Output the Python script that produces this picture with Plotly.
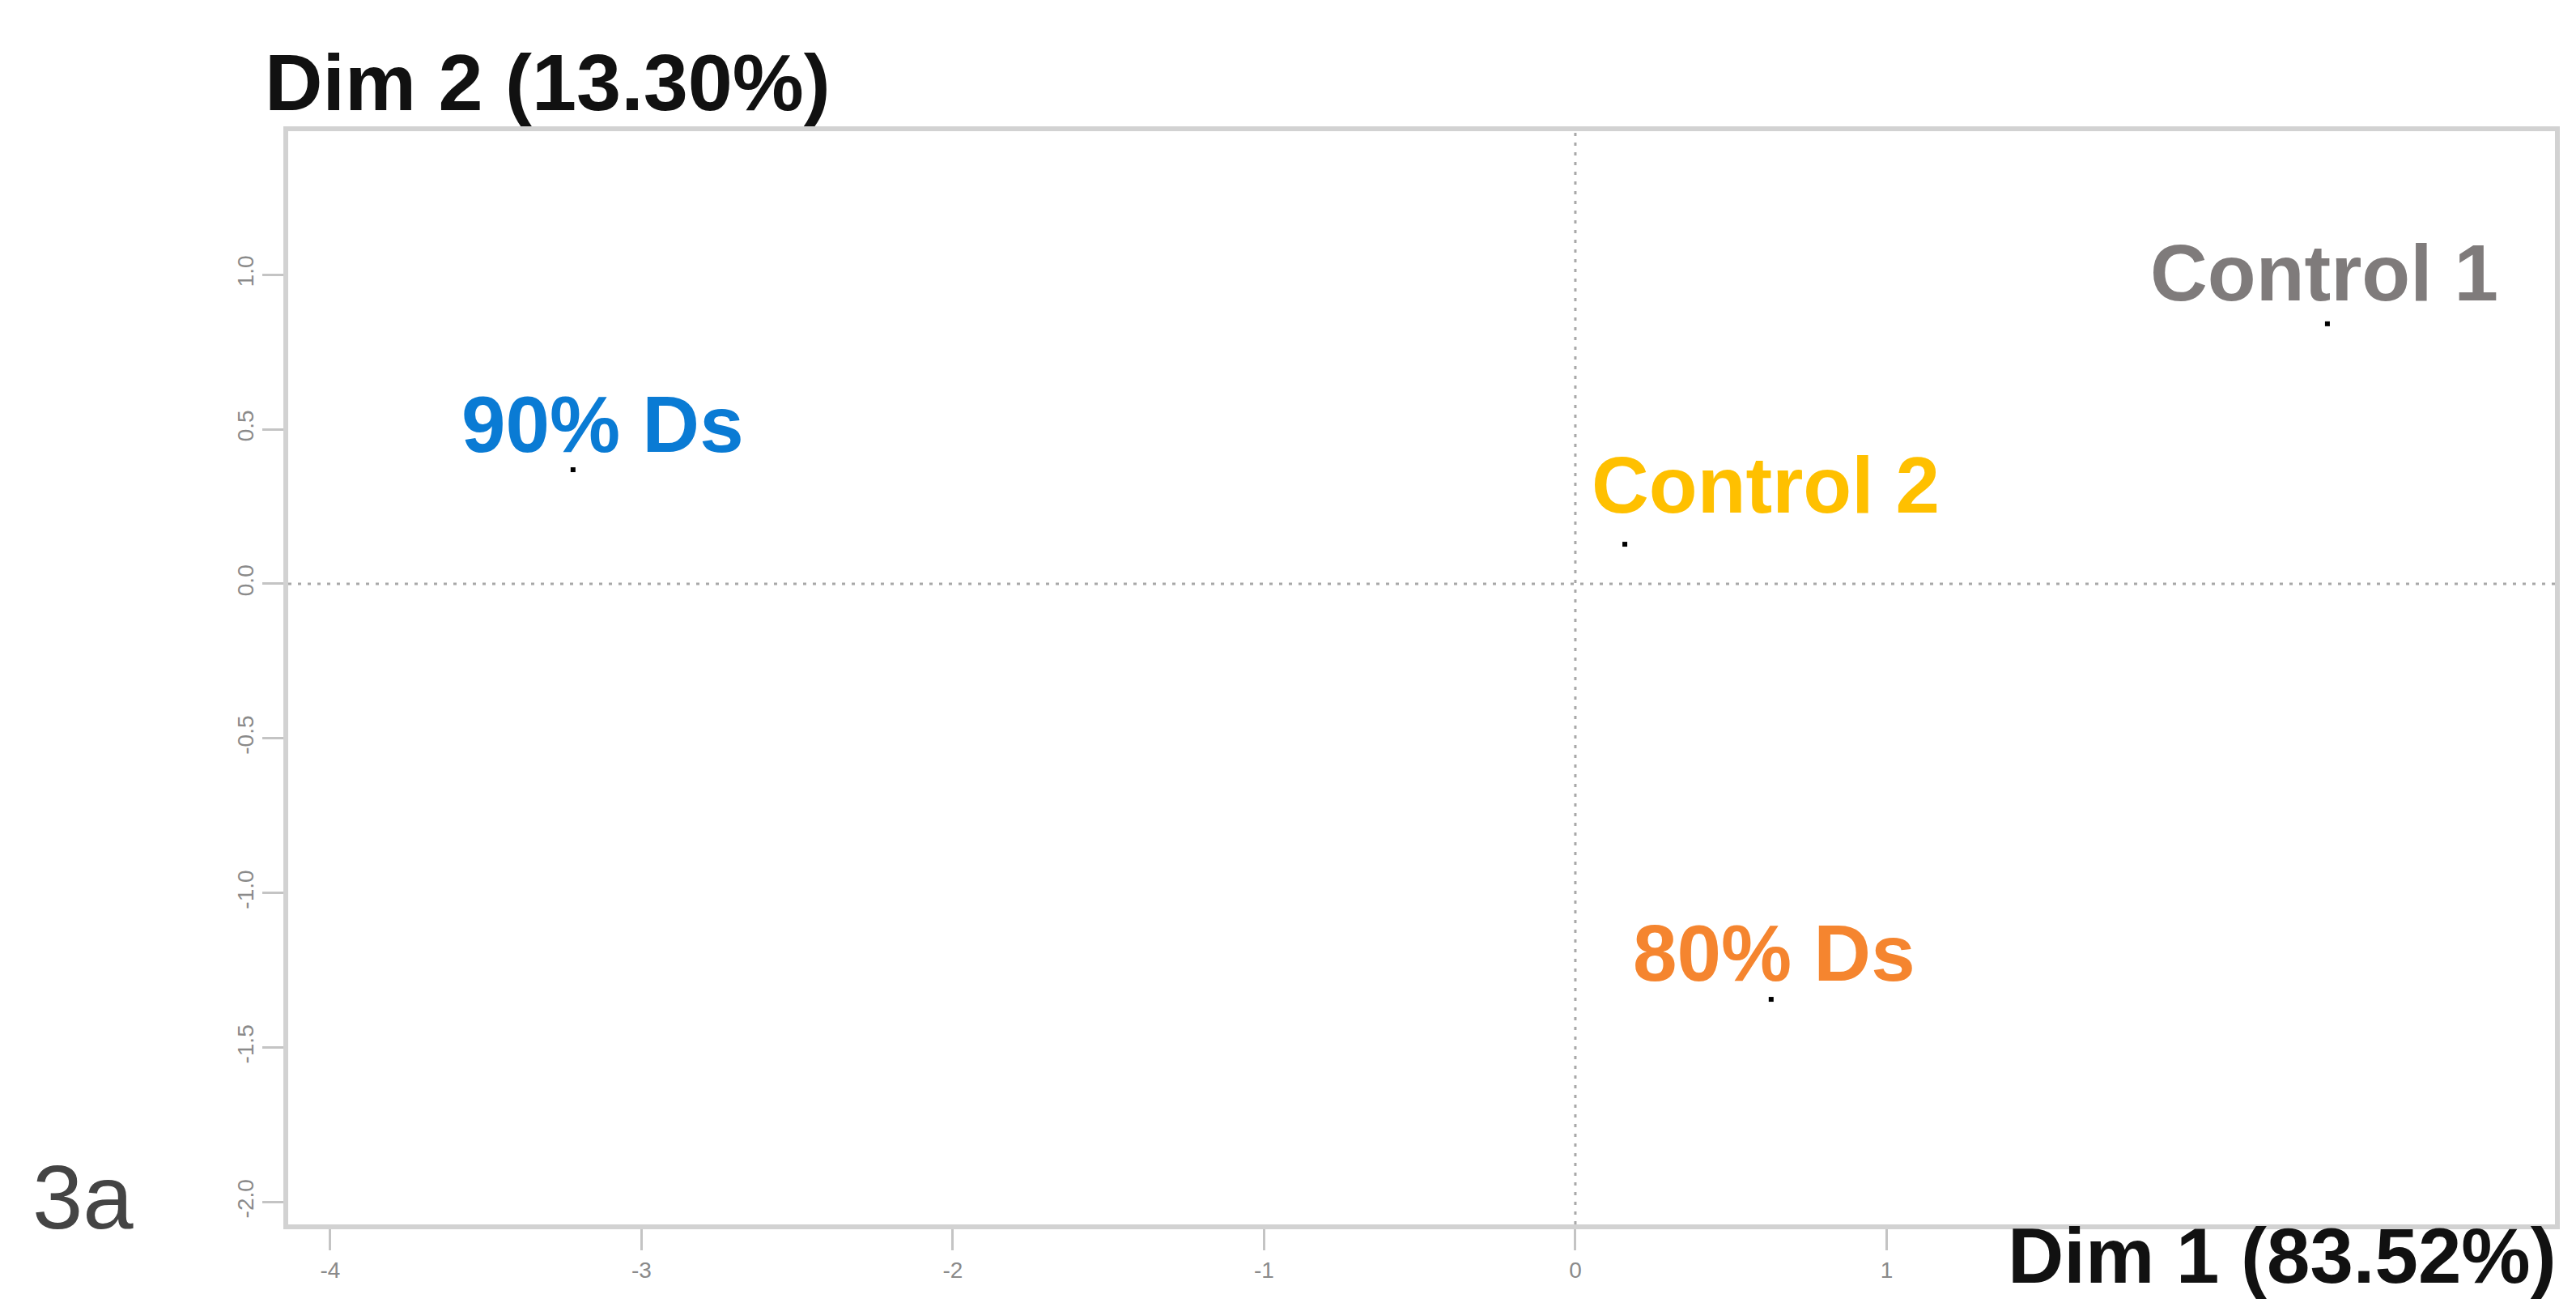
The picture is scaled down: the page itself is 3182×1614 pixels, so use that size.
import plotly.graph_objects as go

# Individuals on the first factorial plane
samples = ["90% Ds", "Control 2", "Control 1", "80% Ds"]
dim1 = [-3.22, 0.159, 2.416, 0.629]
dim2 = [0.369, 0.128, 0.841, -1.344]
label_colors = ["#0A7BD4", "#FFC000", "#7F7B7B", "#F5852F"]
# pixel shift of each label from its point (x right, y up)
label_shift = [(37, 56), (174, 73), (-4, 63), (4, 57)]

x_ticks = [-4, -3, -2, -1, 0, 1, 2]
x_tick_text = ["-4", "-3", "-2", "-1", "0", "1", ""]  # "2" sits under the Dim 1 title
y_ticks = [-2.0, -1.5, -1.0, -0.5, 0.0, 0.5, 1.0]
x_title = "Dim 1 (83.52%)"
y_title = "Dim 2 (13.30%)"
panel_tag = "3a"

W, H = 3182, 1614
ML, MR, MT, MB = 356, 26, 162, 102
PW, PH = W - ML - MR, H - MT - MB


def px_to_paper(px, py):
    return (px - ML) / PW, (H - MB - py) / PH


fig = go.Figure()
fig.add_trace(go.Scatter(
    x=dim1, y=dim2, mode="markers",
    marker=dict(symbol="square", size=6, color="black"),
    hoverinfo="text", text=samples, showlegend=False,
))

for name, x, y, col, (dx, dy) in zip(samples, dim1, dim2, label_colors, label_shift):
    fig.add_annotation(
        x=x, y=y, xref="x", yref="y", text=name, showarrow=False,
        xanchor="center", yanchor="middle", xshift=dx, yshift=dy,
        font=dict(family="Liberation Sans, Arial", size=98, color=col, weight="bold"),
    )

# dotted reference lines through the origin
ref_line = dict(color="#a8a8a8", width=3, dash="4px,8px")
fig.add_shape(type="line", xref="x", yref="paper", x0=0, x1=0, y0=0, y1=1,
              line=ref_line, layer="below")
fig.add_shape(type="line", xref="paper", yref="y", x0=0, x1=1, y0=0, y1=0,
              line=ref_line, layer="below")

# axis titles and panel tag
tx, ty = px_to_paper(325, 102)
fig.add_annotation(x=tx, y=ty, xref="paper", yref="paper", text=y_title, showarrow=False,
                   xanchor="left", yanchor="middle",
                   font=dict(family="Liberation Sans, Arial", size=99, color="#111111", weight="bold"))
tx, ty = px_to_paper(2478, 1550)
fig.add_annotation(x=tx, y=ty, xref="paper", yref="paper", text=x_title, showarrow=False,
                   xanchor="left", yanchor="middle",
                   font=dict(family="Liberation Sans, Arial", size=96, color="#111111", weight="bold"))
tx, ty = px_to_paper(38, 1478)
fig.add_annotation(x=tx, y=ty, xref="paper", yref="paper", text=panel_tag, showarrow=False,
                   xanchor="left", yanchor="middle",
                   font=dict(family="Liberation Sans, Arial", size=112, color="#444444"))

axis_common = dict(
    showgrid=False, zeroline=False, showline=True, mirror=True,
    linecolor="#d2d2d2", linewidth=6,
    ticks="outside", ticklen=26, tickwidth=3, tickcolor="#c4c4c4",
    tickfont=dict(family="Liberation Sans, Arial", size=28, color="#8a8a8a"),
)
fig.update_xaxes(range=[-4.135, 3.147], tickvals=x_ticks,
                 ticktext=x_tick_text, **axis_common)
fig.update_yaxes(range=[-2.072, 1.464], tickvals=y_ticks,
                 ticktext=[f"{v:.1f}" for v in y_ticks], tickangle=-90, **axis_common)

fig.update_layout(
    width=W, height=H, autosize=False,
    margin=dict(l=ML, r=MR, t=MT, b=MB),
    paper_bgcolor="white", plot_bgcolor="white",
)

fig.write_html("out.html")
